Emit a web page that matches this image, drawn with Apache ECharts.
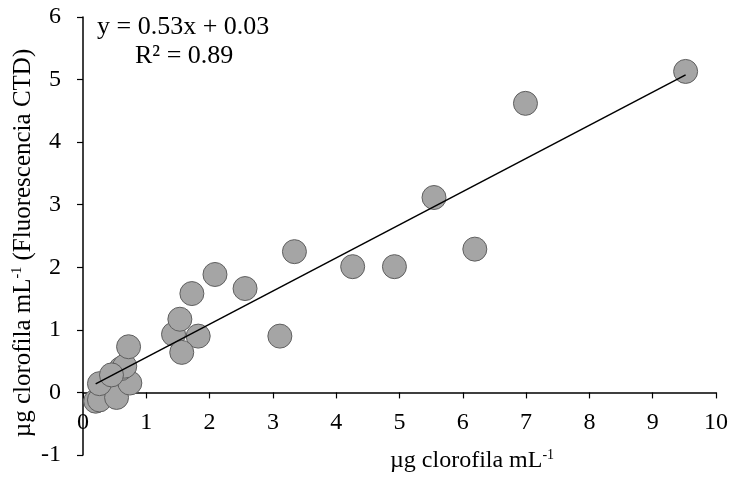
<!DOCTYPE html>
<html>
<head>
<meta charset="utf-8">
<script src="https://cdn.jsdelivr.net/npm/echarts@6/dist/echarts.min.js"></script>
<style>html,body{margin:0;padding:0;background:#fff;}#c{width:731px;height:477px;}</style>
</head>
<body>
<div id="c"></div>
<script>
var xVals = [0.20, 0.26, 0.53, 0.26, 0.74, 0.60, 0.66, 0.45, 0.72, 1.43, 1.82, 1.56, 1.53, 1.72, 2.085, 2.56, 3.11, 3.34, 4.26, 4.92, 5.545, 6.19, 6.99, 9.52];
var yVals = [-0.14, -0.12, -0.08, 0.14, 0.15, 0.38, 0.42, 0.28, 0.73, 0.93, 0.90, 0.64, 1.17, 1.58, 1.885, 1.66, 0.90, 2.25, 2.01, 2.01, 3.115, 2.29, 4.62, 5.13];
var trendX = [0.20, 9.52];
var trendY = [0.136, 5.076];
var xTicks = [0,1,2,3,4,5,6,7,8,9,10];
var yTicks = [-1,0,1,2,3,4,5,6];
var equationText = 'y = 0.53x + 0.03';
var r2Text = 'R\u00b2 = 0.89';
var xTitle = '\u00b5g clorofila mL';
var yTitle = '\u00b5g clorofila mL';
var yTitleEnd = ' (Fluorescencia CTD)';

var FONT = 'Liberation Serif';
var pts = xVals.map(function(x,i){return [x, yVals[i]];});
var trend = trendX.map(function(x,i){return [x, trendY[i]];});

var gridTop = 17, gridBottom = 22, H = 477;
var yUnitPx = (H - gridTop - gridBottom) / (yTicks[yTicks.length-1] - yTicks[0]);
var xAxisOffset = -(0 - yTicks[0]) * yUnitPx; // place x axis at y = 0

var chart = echarts.init(document.getElementById('c'), null, {renderer:'canvas'});
chart.setOption({
  animation:false,
  backgroundColor:'#fff',
  grid:{left:83, right:15, top:gridTop, bottom:gridBottom, containLabel:false, outerBoundsMode:'none'},
  xAxis:{
    type:'value', min:xTicks[0], max:xTicks[xTicks.length-1], interval:1,
    position:'bottom', offset:xAxisOffset,
    axisLine:{show:true, onZero:false, lineStyle:{color:'#000', width:1.5}},
    axisTick:{show:true, inside:false, length:6, lineStyle:{color:'#000', width:1.2}},
    axisLabel:{color:'#000', fontSize:24, fontFamily:FONT, margin:18},
    splitLine:{show:false}
  },
  yAxis:{
    type:'value', min:yTicks[0], max:yTicks[yTicks.length-1], interval:1,
    axisLine:{show:true, onZero:false, lineStyle:{color:'#000', width:1.5}},
    axisTick:{show:true, inside:false, length:6, lineStyle:{color:'#000', width:1.2}},
    axisLabel:{color:'#000', fontSize:24, fontFamily:FONT, margin:22},
    splitLine:{show:false}
  },
  graphic:[
    {type:'text', left:97, top:14, style:{text:equationText, font:'26px "Liberation Serif"', fill:'#000'}},
    {type:'text', left:135, top:43, style:{text:r2Text, font:'26px "Liberation Serif"', fill:'#000'}},
    {type:'text', left:390, top:448, style:{
      text:'{a|'+xTitle+'}{s|-1}',
      rich:{
        a:{fontSize:24, fontFamily:FONT, fill:'#000', lineHeight:26},
        s:{fontSize:14, fontFamily:FONT, fill:'#000', verticalAlign:'top', lineHeight:18}
      }
    }},
    {type:'text', x:23, y:243, rotation:Math.PI/2, style:{
      text:'{a|'+yTitle+'}{s|-1}{a|'+yTitleEnd+'}',
      align:'center', verticalAlign:'middle',
      rich:{
        a:{fontSize:25, fontFamily:FONT, fill:'#000', lineHeight:26},
        s:{fontSize:14, fontFamily:FONT, fill:'#000', verticalAlign:'top', lineHeight:18}
      }
    }}
  ],
  series:[
    {type:'scatter', data:pts, symbol:'circle', symbolSize:24,
     itemStyle:{color:'#a5a5a5', borderColor:'#5f5f5f', borderWidth:1, opacity:1}, z:2},
    {type:'line', data:trend, symbol:'none', lineStyle:{color:'#000', width:1.5}, z:3}
  ]
});
</script>
</body>
</html>
